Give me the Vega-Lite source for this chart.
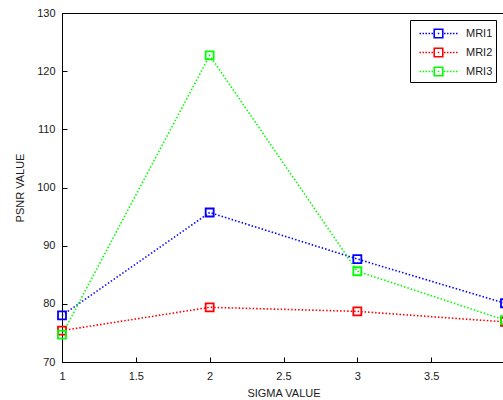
{
  "$schema": "https://vega.github.io/schema/vega-lite/v6.json",
  "width": 443,
  "height": 349,
  "autosize": {"type": "none"},
  "padding": {"left": 62, "top": 13, "right": 0, "bottom": 38},
  "background": "white",
  "config": {
    "font": "Liberation Sans",
    "view": {"stroke": "black", "strokeWidth": 1},
    "axis": {
      "domainColor": "black",
      "tickColor": "black",
      "labelColor": "#1a1a1a",
      "titleColor": "#1a1a1a",
      "labelFont": "Liberation Sans",
      "titleFont": "Liberation Sans",
      "labelFontSize": 11,
      "titleFontSize": 11,
      "titleFontWeight": "normal",
      "grid": false,
      "tickSize": -5,
      "domainWidth": 1
    }
  },
  "data": {
    "values": [
      {"sigma": 1, "series": "MRI1", "psnr": 78.0},
      {"sigma": 2, "series": "MRI1", "psnr": 95.7},
      {"sigma": 3, "series": "MRI1", "psnr": 87.7},
      {"sigma": 4, "series": "MRI1", "psnr": 80.1},
      {"sigma": 1, "series": "MRI2", "psnr": 75.4},
      {"sigma": 2, "series": "MRI2", "psnr": 79.4},
      {"sigma": 3, "series": "MRI2", "psnr": 78.7},
      {"sigma": 4, "series": "MRI2", "psnr": 76.9},
      {"sigma": 1, "series": "MRI3", "psnr": 74.7},
      {"sigma": 2, "series": "MRI3", "psnr": 122.7},
      {"sigma": 3, "series": "MRI3", "psnr": 85.6},
      {"sigma": 4, "series": "MRI3", "psnr": 77.2}
    ]
  },
  "encoding": {
    "x": {
      "field": "sigma",
      "type": "quantitative",
      "scale": {"domain": [1, 4], "nice": false, "zero": false},
      "axis": {"title": "SIGMA VALUE", "values": [1, 1.5, 2, 2.5, 3, 3.5], "format": "~g", "labelPadding": 13, "titlePadding": 6, "labelFlush": false}
    },
    "y": {
      "field": "psnr",
      "type": "quantitative",
      "scale": {"domain": [70, 130], "nice": false, "zero": false},
      "axis": {"title": "PSNR VALUE", "values": [70, 80, 90, 100, 110, 120, 130], "labelPadding": 12, "titlePadding": 11, "labelFlush": false}
    },
    "color": {
      "field": "series",
      "type": "nominal",
      "scale": {"domain": ["MRI1", "MRI2", "MRI3"], "range": ["#0000ff", "#ff0000", "#00ff00"]}
    }
  },
  "layer": [
    {
      "mark": {"type": "line", "strokeWidth": 1.6, "strokeDash": [1.5, 2], "clip": false},
      "encoding": {
        "color": {
          "field": "series",
          "type": "nominal",
          "scale": {"domain": ["MRI1", "MRI2", "MRI3"], "range": ["#0000ff", "#ff0000", "#00ff00"]},
          "legend": {
            "title": null,
            "orient": "none",
            "legendX": 348,
            "legendY": 7,
            "direction": "vertical",
            "fillColor": "white",
            "strokeColor": "black",
            "padding": 3,
            "cornerRadius": 0,
            "symbolType": "M-2,0h0.16M-1.68,0h0.16M-1.37,0h0.16M-1.05,0h0.16M-0.74,0h0.16M0.58,0h0.16M0.89,0h0.16M1.21,0h0.16M1.52,0h0.16M1.84,0h0.16M-0.45,-0.45h0.9v0.9h-0.9zM-0.08,0h0.16",
            "symbolSize": 361,
            "symbolStrokeWidth": 1.6,
            "symbolFillColor": "transparent",
            "symbolOffset": 15,
            "labelFont": "Liberation Sans",
            "labelFontSize": 11,
            "labelColor": "#1a1a1a",
            "labelOffset": 17,
            "rowPadding": 1
          }
        }
      }
    },
    {
      "mark": {"type": "point", "shape": "square", "filled": false, "size": 64, "strokeWidth": 1.8, "opacity": 1, "clip": false},
      "encoding": {
        "color": {"field": "series", "type": "nominal", "legend": null}
      }
    }
  ]
}
